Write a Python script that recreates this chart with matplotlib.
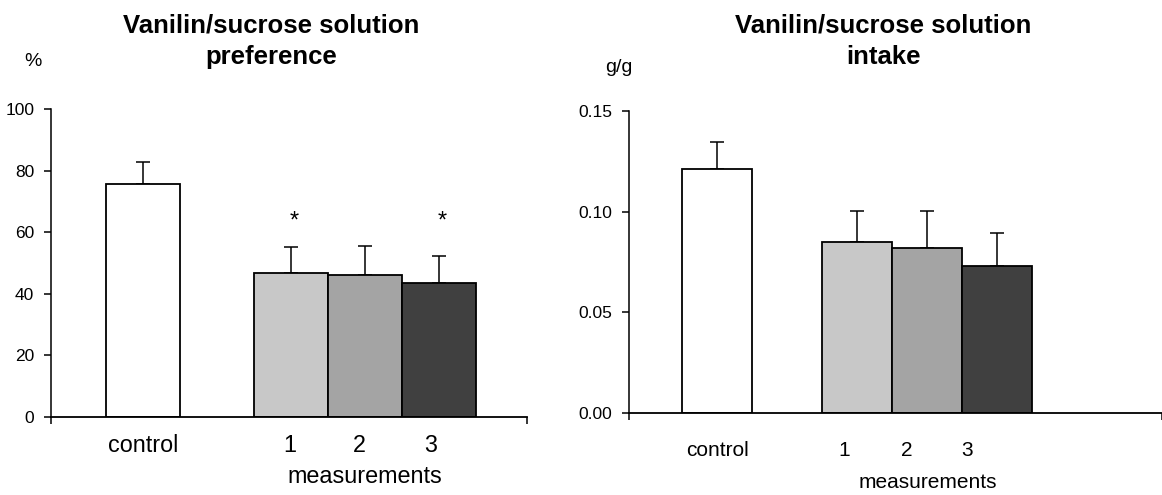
import matplotlib
matplotlib.use('Agg')
import matplotlib.pyplot as plt

plt.rcParams['font.family'] = ['Liberation Sans', 'DejaVu Sans']

# data
groups = ['control', '1', '2', '3']
pref_mean = [75.7, 46.6, 46.1, 43.5]
pref_err = [7.2, 8.5, 9.5, 8.9]
pref_sig = [False, True, False, True]
intake_mean = [0.121, 0.0851, 0.0821, 0.0732]
intake_err = [0.0137, 0.0152, 0.0182, 0.016]
intake_sig = [False, False, False, False]

bar_pos = [0, 2, 3, 4]
bar_colors = ['#ffffff', '#c8c8c8', '#a4a4a4', '#404040']

W, H = 1162, 495


def draw_panel(rect, xlim, ylim, yticks, yfmt, means, errs, sig, title, unit, unit_xy,
               label_x, label_y, meas_y, fs_lab, title_x):
    ax = fig.add_axes(rect)
    ax.bar(bar_pos, means, width=1.0, color=bar_colors, edgecolor='black', linewidth=1.3, zorder=2)
    ax.errorbar(bar_pos, means, yerr=[[0] * len(errs), errs], fmt='none', ecolor='black',
                elinewidth=1.1, capsize=4.8, capthick=1.1, zorder=1)

    # stars all sit on one line above the highest error bar of the marked group
    tops = [m + e for m, e, s in zip(means, errs, sig) if s]
    if tops:
        star_y = max(tops) + (ylim[1] - ylim[0]) * 0.085
        for x, s in zip(bar_pos, sig):
            if s:
                ax.text(x + 0.05, star_y, '*', ha='center', va='center', fontsize=17)

    ax.set_xlim(*xlim)
    ax.set_ylim(*ylim)
    for side in ['top', 'right']:
        ax.spines[side].set_visible(False)
    ax.spines['left'].set_linewidth(1.1)
    ax.spines['bottom'].set_linewidth(1.3)
    ax.set_yticks(yticks)
    ax.set_yticklabels([yfmt.format(v) for v in yticks], fontsize=12.5)
    ax.tick_params(axis='y', direction='out', length=5, width=1.1, pad=7)
    ax.set_xticks([xlim[0], xlim[1]])
    ax.set_xticklabels(['', ''])
    ax.tick_params(axis='x', direction='out', length=5, width=1.1)

    tr = ax.get_xaxis_transform()
    for lx, g in zip(label_x, groups):
        ax.text(lx, label_y, g, transform=tr, ha='center', va='center', fontsize=fs_lab, clip_on=False)
    ax.text(bar_pos[2], meas_y, 'measurements', transform=tr, ha='center', va='center', fontsize=fs_lab,
            clip_on=False)

    fig.text(title_x / W, 1 - 41 / H, title, ha='center', va='center', fontsize=18.5, fontweight='bold',
             linespacing=1.42)
    fig.text(unit_xy[0] / W, 1 - unit_xy[1] / H, unit, ha='center', va='center', fontsize=14)
    return ax


fig = plt.figure(figsize=(W / 100, H / 100), dpi=100)

draw_panel([51 / W, 1 - 416.7 / H, (527 - 51) / W, (416.7 - 109.3) / H],
           (-1.24, 5.19), (0, 100), [0, 20, 40, 60, 80, 100], '{:.0f}',
           pref_mean, pref_err, pref_sig,
           'Vanilin/sucrose solution\npreference', '%', (33, 62),
           [0.01, 1.99, 2.92, 3.89], -0.095, -0.196, 16.8, 271)

draw_panel([629 / W, 1 - 413.3 / H, (1162 - 629) / W, (413.3 - 110.7) / H],
           (-1.26, 6.35), (0, 0.15), [0, 0.05, 0.10, 0.15], '{:.2f}',
           intake_mean, intake_err, intake_sig,
           'Vanilin/sucrose solution\nintake', 'g/g', (619, 68),
           [0.01, 1.81, 2.7, 3.56], -0.123, -0.23, 15, 883)

fig.savefig('out.png', dpi=100)
